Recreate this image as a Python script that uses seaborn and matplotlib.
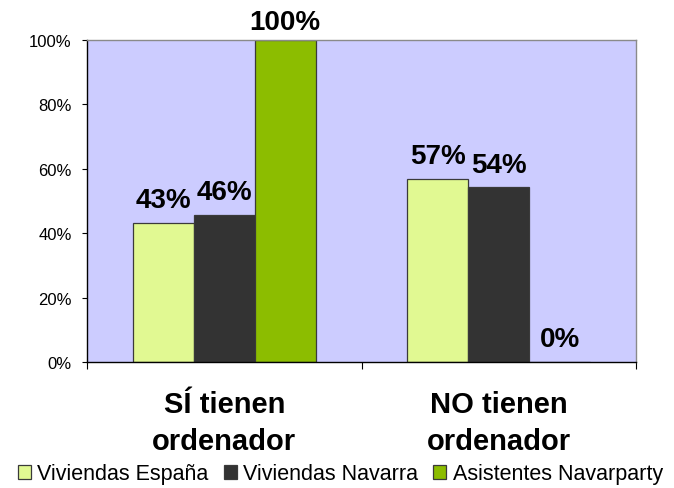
import numpy as np
import pandas as pd
import seaborn as sns
import matplotlib.pyplot as plt
from matplotlib.ticker import PercentFormatter, FixedLocator

categories = ["SÍ tienen\nordenador", "NO tienen\nordenador"]
series = ["Viviendas España", "Viviendas Navarra", "Asistentes Navarparty"]
viviendas_espana = [43.2, 56.8]
viviendas_navarra = [45.6, 54.2]
asistentes_navarparty = [100.0, 0.0]
colors = ["#E1F992", "#333333", "#8CBD00"]

df = pd.DataFrame({
    "categoria": categories * 3,
    "serie": np.repeat(series, len(categories)),
    "valor": viviendas_espana + viviendas_navarra + asistentes_navarparty,
})

sns.set_style("white")
plt.rcParams["font.family"] = ["Liberation Sans", "DejaVu Sans"]
plt.rcParams["text.color"] = "black"
plt.rcParams["xtick.color"] = "black"
plt.rcParams["ytick.color"] = "black"

fig = plt.figure(figsize=(6.74, 4.89), dpi=100)
ax = fig.add_axes([87 / 674, 1 - 363 / 489, (636 - 87) / 674, (363 - 41) / 489])
ax.set_facecolor("#CCCCFF")

sns.barplot(data=df, x="categoria", y="valor", hue="serie", order=categories,
            hue_order=series, palette=colors, saturation=1, width=0.667, gap=0,
            edgecolor="#3a3a3a", linewidth=0.9, errorbar=None, ax=ax)

# etiquetas de datos encima de cada barra
for cont in ax.containers:
    for bar in cont:
        h = bar.get_height()
        off = 8 if h >= 99 else 11.5
        ax.annotate(f"{h:.0f}%", (bar.get_x() + bar.get_width() / 2, h),
                    xytext=(0, off), textcoords="offset points",
                    ha="center", va="baseline", fontsize=20, fontweight="bold",
                    color="black", annotation_clip=False)

ax.set_ylim(0, 100)
ax.set_xlim(-0.5, 1.5)
ax.set_yticks([0, 20, 40, 60, 80, 100])
ax.yaxis.set_major_formatter(PercentFormatter(decimals=0))
ax.tick_params(axis="y", left=True, length=3.6, width=0.8, pad=7.5,
               labelsize=12, color="black", labelcolor="black")
ax.tick_params(axis="x", which="major", length=0, pad=20, labelsize=21,
               labelcolor="black")
for lab in ax.get_xticklabels():
    lab.set_fontweight("bold")
    lab.set_linespacing(1.4)
ax.xaxis.set_minor_locator(FixedLocator([-0.5, 0.5, 1.5]))
ax.tick_params(axis="x", which="minor", bottom=True, length=5, width=0.8,
               color="black")
ax.set_xlabel("")
ax.set_ylabel("")

for s in ["left", "bottom"]:
    ax.spines[s].set_color("black")
    ax.spines[s].set_linewidth(1)
for s in ["top", "right"]:
    ax.spines[s].set_color("#8a8a8a")
    ax.spines[s].set_linewidth(1)

leg = ax.legend(loc="center", bbox_to_anchor=(0.505, 0.029),
                bbox_transform=fig.transFigure, ncol=3, frameon=False,
                fontsize=15.5, handlelength=0.6, handleheight=0.6,
                handletextpad=0.3, columnspacing=0.7, borderpad=0,
                borderaxespad=0)
for t in leg.get_texts():
    t.set_color("black")

plt.savefig("out.png", dpi=100)
